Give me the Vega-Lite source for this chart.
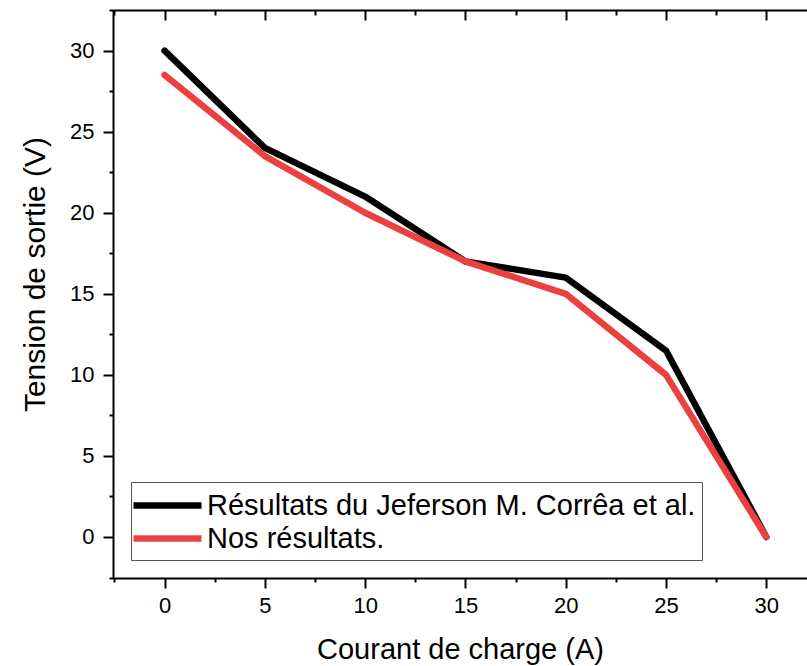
{
  "$schema": "https://vega.github.io/schema/vega-lite/v6.json",
  "width": 694,
  "height": 568,
  "autosize": "none",
  "padding": {"left": 113, "top": 10, "right": 0, "bottom": 88},
  "background": "white",
  "config": {
    "view": {"stroke": null},
    "font": "Liberation Sans",
    "axis": {
      "grid": false,
      "domainColor": "black",
      "domainWidth": 2,
      "tickColor": "black",
      "tickWidth": 2,
      "labelFont": "Liberation Sans",
      "labelFontSize": 22,
      "labelColor": "black",
      "titleFont": "Liberation Sans",
      "titleFontSize": 29,
      "titleFontWeight": "normal",
      "titleColor": "black"
    }
  },
  "data": {
    "values": [
      {"current": 0, "voltage": 30, "series": "Résultats du Jeferson M. Corrêa et al."},
      {"current": 5, "voltage": 24, "series": "Résultats du Jeferson M. Corrêa et al."},
      {"current": 10, "voltage": 21, "series": "Résultats du Jeferson M. Corrêa et al."},
      {"current": 15, "voltage": 17, "series": "Résultats du Jeferson M. Corrêa et al."},
      {"current": 20, "voltage": 16, "series": "Résultats du Jeferson M. Corrêa et al."},
      {"current": 25, "voltage": 11.5, "series": "Résultats du Jeferson M. Corrêa et al."},
      {"current": 30, "voltage": 0, "series": "Résultats du Jeferson M. Corrêa et al."},
      {"current": 0, "voltage": 28.5, "series": "Nos résultats."},
      {"current": 5, "voltage": 23.5, "series": "Nos résultats."},
      {"current": 10, "voltage": 20, "series": "Nos résultats."},
      {"current": 15, "voltage": 17, "series": "Nos résultats."},
      {"current": 20, "voltage": 15, "series": "Nos résultats."},
      {"current": 25, "voltage": 10, "series": "Nos résultats."},
      {"current": 30, "voltage": 0, "series": "Nos résultats."}
    ]
  },
  "layer": [
    {
      "mark": {"type": "line", "opacity": 0},
      "encoding": {
        "x": {"field": "current", "type": "quantitative",
          "scale": {"domain": [-2.57, 32.03], "nice": false, "zero": false},
          "axis": {"orient": "bottom", "values": [-2.5, 2.5, 7.5, 12.5, 17.5, 22.5, 27.5], "tickSize": 4, "labels": false, "domain": false, "title": null}},
        "y": {"field": "voltage", "type": "quantitative",
          "scale": {"domain": [-2.53, 32.51], "nice": false, "zero": false},
          "axis": {"orient": "left", "values": [-2.5, 2.5, 7.5, 12.5, 17.5, 22.5, 27.5, 32.5], "tickSize": 4, "labels": false, "domain": false, "title": null}},
        "detail": {"field": "series"}
      }
    },
    {
      "mark": {"type": "line", "opacity": 0},
      "encoding": {
        "x": {"field": "current", "type": "quantitative",
          "axis": {"orient": "top", "values": [0, 5, 10, 15, 20, 25, 30], "tickSize": -10, "labels": false, "domain": true, "title": null}},
        "y": {"field": "voltage", "type": "quantitative", "axis": null},
        "detail": {"field": "series"}
      }
    },
    {
      "mark": {"type": "line", "opacity": 0},
      "encoding": {
        "x": {"field": "current", "type": "quantitative",
          "axis": {"orient": "top", "values": [-2.5, 2.5, 7.5, 12.5, 17.5, 22.5, 27.5], "tickSize": -5, "labels": false, "domain": false, "title": null}},
        "y": {"field": "voltage", "type": "quantitative", "axis": null},
        "detail": {"field": "series"}
      }
    },
    {
      "mark": {"type": "line", "strokeWidth": 6.5, "strokeCap": "round", "strokeJoin": "round"},
      "encoding": {
        "x": {"field": "current", "type": "quantitative",
          "axis": {"orient": "bottom", "values": [0, 5, 10, 15, 20, 25, 30], "tickSize": 10, "labelPadding": 7, "title": "Courant de charge (A)", "titlePadding": 19}},
        "y": {"field": "voltage", "type": "quantitative",
          "axis": {"orient": "left", "values": [0, 5, 10, 15, 20, 25, 30], "tickSize": 10, "labelPadding": 9, "title": "Tension de sortie (V)", "titlePadding": 19, "titleFontSize": 30, "titleY": 264}},
        "color": {"field": "series", "type": "nominal",
          "scale": {"domain": ["Résultats du Jeferson M. Corrêa et al.", "Nos résultats."], "range": ["#000000", "#ec4040"]},
          "legend": {
            "title": null,
            "orient": "none",
            "legendX": 18,
            "legendY": 472,
            "symbolType": "M-2.43,0H2.43",
            "symbolSize": 784,
            "symbolStrokeWidth": 6.5,
            "symbolOffset": 13,
            "labelFontSize": 29,
            "labelFont": "Liberation Sans",
            "labelColor": "black",
            "labelOffset": 22,
            "labelLimit": 1000,
            "rowPadding": -2,
            "padding": 6,
            "strokeColor": "#555555",
            "fillColor": "white"
          }}
      }
    }
  ],
  "resolve": {"axis": {"x": "independent", "y": "independent"}}
}
